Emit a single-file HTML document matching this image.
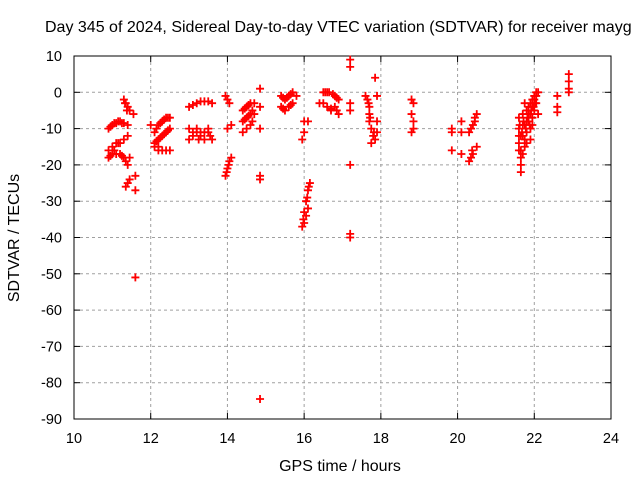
<!DOCTYPE html>
<html><head><meta charset="utf-8"><style>
body{margin:0;background:#fff}
svg{display:block;font-family:"Liberation Sans",sans-serif}
</style></head><body>
<svg id="chart" width="640" height="480" viewBox="0 0 640 480" xmlns="http://www.w3.org/2000/svg">
<rect width="640" height="480" fill="#fff"/>
<text x="45" y="32" font-size="16" fill="#000">Day 345 of 2024, Sidereal Day-to-day VTEC variation (SDTVAR) for receiver mayg</text>
<g id="grid"></g>
<g id="axes"></g>
<g id="points"></g>
<text x="340" y="471" font-size="16" text-anchor="middle">GPS time / hours</text>
<text transform="translate(19,238) rotate(-90)" font-size="16" text-anchor="middle">SDTVAR / TECUs</text>
</svg>
<script>
const xTicks=[10,12,14,16,18,20,22,24];
const yTicks=[10,0,-10,-20,-30,-40,-50,-60,-70,-80,-90];
const xs=[10.9,11.0,11.1,11.2,11.3,11.4,10.9,11.0,11.1,11.2,11.3,10.9,11.0,11.1,11.2,11.3,11.3,11.35,11.4,11.45,11.55,11.4,11.35,11.4,11.45,11.35,11.4,11.45,11.6,11.6,11.6,
10.95,11.05,11.15,11.25,11.05,11.15,10.95,11.25,11.33,11.38,
12.1,12.2,12.3,12.4,12.5,12.1,12.2,12.3,12.4,12.5,12.1,12.3,12.5,12.0,12.2,
12.15,12.25,12.35,12.45,12.15,12.25,12.35,12.45,12.2,12.4,
13.0,13.2,13.4,13.6,13.0,13.0,13.2,13.3,13.5,13.6,13.4,13.1,13.2,13.5,
13.1,13.3,13.5,13.1,13.3,13.4,13.55,13.25,
13.95,14.0,14.05,14.0,14.1,13.95,14.0,14.05,14.1,13.98,14.03,
14.4,14.5,14.6,14.4,14.5,14.6,14.4,14.5,14.6,14.7,14.7,14.85,14.85,14.85,14.85,14.85,14.85,
14.45,14.55,14.45,14.55,14.65,14.65,
15.4,15.5,15.6,15.7,15.4,15.5,15.6,15.7,15.8,15.45,15.55,15.65,15.45,15.65,
16.0,16.1,15.95,16.0,15.95,16.0,16.05,16.1,16.15,16.0,16.1,16.05,15.98,16.08,16.12,
16.5,16.6,16.8,16.9,16.5,16.6,16.8,16.9,16.7,16.4,16.55,16.65,16.75,16.85,16.7,16.85,
17.2,17.2,17.2,17.2,17.2,17.2,17.2,
17.65,17.7,17.7,17.7,17.75,17.8,17.75,17.85,17.9,17.9,17.85,17.9,17.6,17.68,17.72,17.82,
18.8,18.85,18.8,18.85,18.85,18.8,
19.85,19.85,19.85,20.1,20.1,20.1,20.3,20.4,20.45,20.5,20.3,20.4,20.5,20.35,20.35,20.45,20.38,
21.6,21.6,21.6,21.6,21.65,21.65,21.65,21.7,21.7,21.75,21.75,21.8,21.8,21.85,21.85,21.9,21.9,21.9,21.95,21.95,22.0,22.0,22.05,22.05,22.1,22.1,21.7,21.8,21.9,21.75,21.65,21.7,21.8,21.95,22.0,21.6,
21.62,21.68,21.72,21.78,21.82,21.88,21.92,21.98,22.02,21.85,21.95,22.05,21.75,21.65,
22.6,22.6,22.6,22.9,22.9,22.9,22.9];
const ys=[-10,-9,-8.5,-8,-8.5,-9,-16,-15,-14,-14,-13,-18,-17,-17,-17,-18,-2,-3,-4,-5,-6,-12,-19,-20,-18,-26,-25,-24,-23,-27,-51,
-9.5,-8.5,-8,-8.5,-16,-14,-17.5,-17.5,-3,-5,
-11,-9,-8,-7,-7,-14,-13,-12,-11,-10,-15,-16,-16,-9,-15,
-10,-8.5,-7.5,-7,-13.5,-12.5,-11.5,-10.5,-16,-16,
-4,-3,-2.5,-3,-10,-13,-11,-12,-10,-13,-13,-12,-10,-11,
-3.5,-2.5,-2.5,-11,-11,-11,-12,-13,
-1,-2,-3,-10,-9,-23,-21,-19,-18,-22,-20,
-5,-4,-3,-8,-7,-6,-11,-10,-9,-3,-6,1,-4,-10,-23,-24,-84.5,
-4.5,-3.5,-7.5,-6.5,-5,-8,
-1,-2,-1,0,-4,-5,-4,-3,-1,-1.5,-1.5,-0.5,-4.5,-3.5,
-8,-8,-13,-11,-37,-33,-30,-27,-25,-36,-32,-34,-35,-29,-26,
0,0,-1,-2,-3,-4,-4,-6,-5,-3,0,0,-0.5,-1.5,-4.5,-5,
9,7,-3,-5,-20,-39,-40,
-2,-4,-6,-8,-10,-12,-14,4,-1,-8,-13,-11,-1,-3,-7,-11,
-2,-3,-6,-8,-10,-11,
-10,-11,-16,-8,-11,-17,-11,-9,-7,-6,-19,-17,-15,-18,-10,-8,-16,
-7,-10,-14,-16,-18,-20,-22,-6,-12,-9,-15,-5,-11,-4,-8,-3,-6,-10,-2,-7,-1,-5,0,-3,0,-6,-17,-14,-13,-3,-12,-9,-8,-4,-2,-12,
-9,-11,-8,-10,-7,-9,-5,-4,-3,-6,-9,-1,-13,-16,
-1,-4,-5.5,5,3,1,0];
const X0=74,X1=611,Y0=56,Y1=419;
const sx=v=>X0+(v-10)/14*(X1-X0);
const sy=v=>Y0+(10-v)/100*(Y1-Y0);
const NS="http://www.w3.org/2000/svg";
const grid=document.getElementById('grid'),axes=document.getElementById('axes'),pts=document.getElementById('points');
function mk(tag,at,par){const e=document.createElementNS(NS,tag);for(const k in at)e.setAttribute(k,at[k]);par.appendChild(e);return e;}
xTicks.forEach(t=>{const x=sx(t);
 if(t>10&&t<24){const g=mk('line',{x1:x,x2:x,y1:Y0,y2:Y1,stroke:'#a0a0a0','stroke-dasharray':'3,3'},grid);
 
 }
 mk('line',{x1:x,x2:x,y1:Y1,y2:Y1-6,stroke:'#000'},axes);mk('line',{x1:x,x2:x,y1:Y0,y2:Y0+6,stroke:'#000'},axes);
 const l=mk('text',{x:x,y:Y1+24,'font-size':14.5,'text-anchor':'middle'},axes);l.textContent=t;
 
 
});
yTicks.forEach(t=>{const y=sy(t);
 if(t<10&&t>-90){const g=mk('line',{x1:X0,x2:X1,y1:y,y2:y,stroke:'#a0a0a0','stroke-dasharray':'3,3'},grid);
 
 }
 mk('line',{x1:X0,x2:X0+6,y1:y,y2:y,stroke:'#000'},axes);mk('line',{x1:X1,x2:X1-6,y1:y,y2:y,stroke:'#000'},axes);
 const l=mk('text',{x:X0-12,y:y+5,'font-size':14.5,'text-anchor':'end'},axes);l.textContent=t;
 
 
});
mk('rect',{x:X0,y:Y0,width:X1-X0,height:Y1-Y0,fill:'none',stroke:'#000'},axes);
xs.forEach((v,i)=>{const x=sx(v),y=sy(ys[i]);
 const p=mk('path',{d:`M${x-4},${y}h8M${x},${y-4}v8`,stroke:'#f00','stroke-width':1.8},pts);
 
 
});
</script>
</body></html>
